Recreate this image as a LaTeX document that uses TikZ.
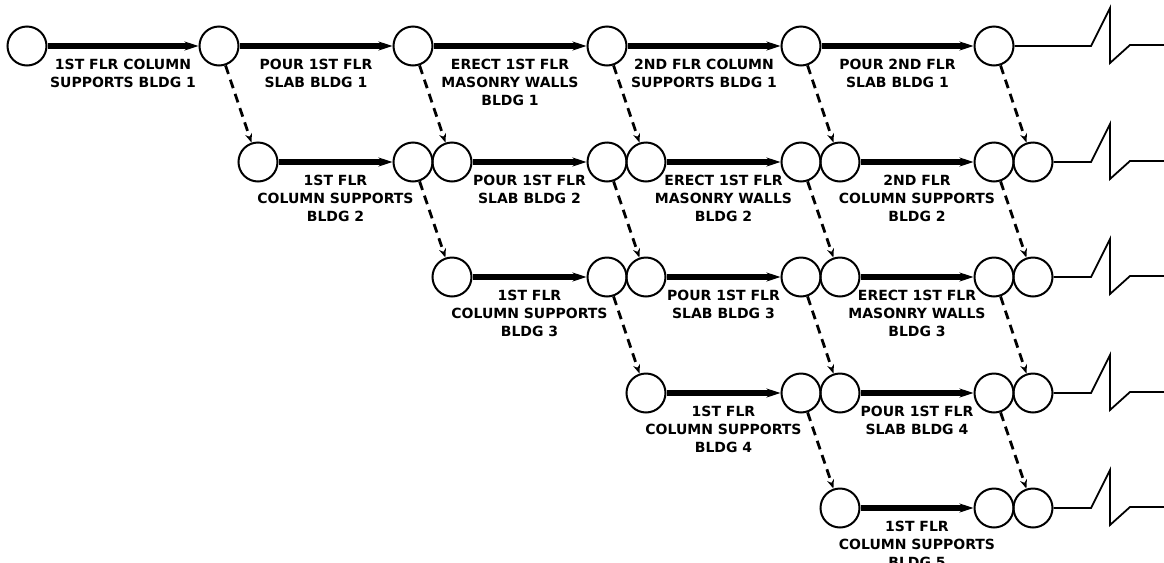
\documentclass[tikz,border=0pt]{standalone}
\usepackage{fontspec}
\setmainfont{DejaVu Sans}
\usepackage{tikz}
\usetikzlibrary{arrows.meta,positioning}
\tikzset{
  ev/.style={circle,draw=black,line width=1pt,minimum size=19.5pt,inner sep=0pt},
  act/.style={-{Stealth[length=7pt,width=4.5pt]},line width=2.6pt},
  dep/.style={-{Stealth[length=4.5pt,width=3.5pt]},line width=1.4pt,
    dash pattern=on 4.5pt off 3pt},
  actlbl/.style={font=\fontsize{7}{9}\selectfont\bfseries,align=center,
    inner sep=1pt,below=4.5pt},
  brk/.style={line width=0.9pt},
}
\def\colx{{27,219,413,607,801,994}}

\begin{document}
\begin{tikzpicture}[x=0.5pt,y=-0.5pt]
  \useasboundingbox (0,0) rectangle (1164,563);
  \node[ev] (f1-0) at (27,46) {};
  \foreach \k in {1,...,5}{
    \pgfmathsetmacro{\xx}{\colx[\k]}
    \node[ev,alias=f1-\k] (e1-\k) at (\xx,46) {};
  }
  \foreach \r/\y in {2/162,3/277,4/393,5/508}{
    \pgfmathtruncatemacro{\p}{\r-1}
    \foreach \k in {\p,...,5}{
      \pgfmathsetmacro{\xx}{\colx[\k]+39}
      \node[ev] (f\r-\k) at (\xx,\y) {};
    }
    \foreach \k in {\r,...,5}{
      \pgfmathsetmacro{\xx}{\colx[\k]}
      \node[ev] (e\r-\k) at (\xx,\y) {};
    }
  }

  \draw[act] (f1-0) -- node[actlbl] {1ST FLR COLUMN\\SUPPORTS BLDG 1} (e1-1);
  \draw[act] (f1-1) -- node[actlbl] {POUR 1ST FLR\\SLAB BLDG 1} (e1-2);
  \draw[act] (f1-2) -- node[actlbl] {ERECT 1ST FLR\\MASONRY WALLS\\BLDG 1} (e1-3);
  \draw[act] (f1-3) -- node[actlbl] {2ND FLR COLUMN\\SUPPORTS BLDG 1} (e1-4);
  \draw[act] (f1-4) -- node[actlbl] {POUR 2ND FLR\\SLAB BLDG 1} (e1-5);

  \draw[act] (f2-1) -- node[actlbl] {1ST FLR\\COLUMN SUPPORTS\\BLDG 2} (e2-2);
  \draw[act] (f2-2) -- node[actlbl] {POUR 1ST FLR\\SLAB BLDG 2} (e2-3);
  \draw[act] (f2-3) -- node[actlbl] {ERECT 1ST FLR\\MASONRY WALLS\\BLDG 2} (e2-4);
  \draw[act] (f2-4) -- node[actlbl] {2ND FLR\\COLUMN SUPPORTS\\BLDG 2} (e2-5);

  \draw[act] (f3-2) -- node[actlbl] {1ST FLR\\COLUMN SUPPORTS\\BLDG 3} (e3-3);
  \draw[act] (f3-3) -- node[actlbl] {POUR 1ST FLR\\SLAB BLDG 3} (e3-4);
  \draw[act] (f3-4) -- node[actlbl] {ERECT 1ST FLR\\MASONRY WALLS\\BLDG 3} (e3-5);

  \draw[act] (f4-3) -- node[actlbl] {1ST FLR\\COLUMN SUPPORTS\\BLDG 4} (e4-4);
  \draw[act] (f4-4) -- node[actlbl] {POUR 1ST FLR\\SLAB BLDG 4} (e4-5);

  \draw[act] (f5-4) -- node[actlbl] {1ST FLR\\COLUMN SUPPORTS\\BLDG 5} (e5-5);

  \foreach \r in {1,...,4}{
    \pgfmathtruncatemacro{\n}{\r+1}
    \foreach \k in {\r,...,5}
      \draw[dep] (e\r-\k) -- (f\n-\k);
  }

  \foreach \r/\y in {1/46,2/162,3/277,4/393,5/508}
    \draw[brk] (f\r-5) -- (1091,\y) -- ++(19,-38) -- ++(0,55) -- ++(20,-18)
      -- (1164,\y-1);
\end{tikzpicture}
\end{document}
